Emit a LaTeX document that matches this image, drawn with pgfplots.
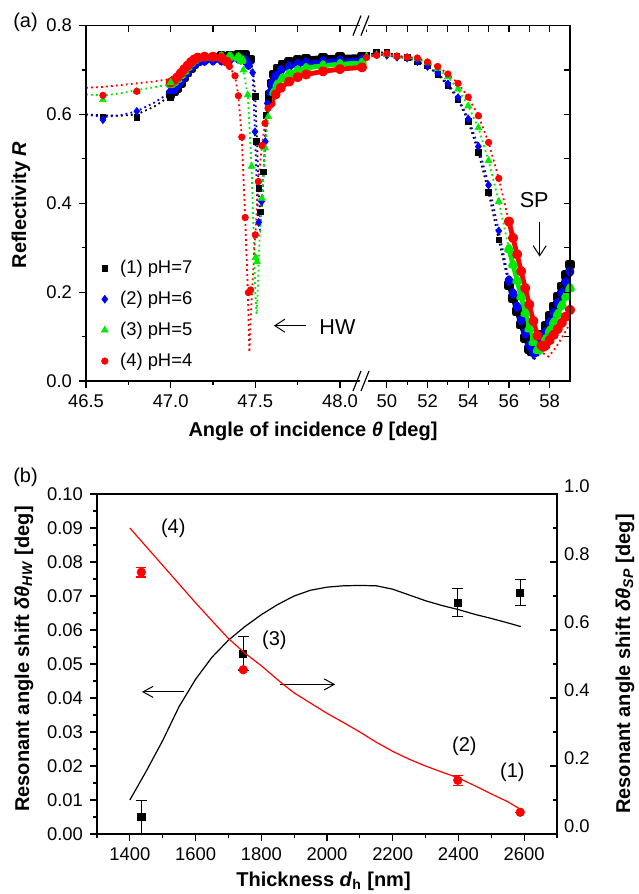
\documentclass[border=0pt]{standalone}
\usepackage{pgfplots}
\pgfplotsset{compat=1.18}
\usepackage{fontspec}
\setmainfont{Liberation Sans}
\usetikzlibrary{arrows.meta}
\definecolor{pblue}{RGB}{0,0,255}
\definecolor{pgreen}{RGB}{0,235,0}
\definecolor{pred}{RGB}{255,0,0}
\newcommand{\tfont}{\fontsize{9.2}{11}\selectfont}
\newcommand{\lfont}{\fontsize{10}{12}\selectfont}
\pgfplotsset{
  ax/.style={
    scale only axis,
    axis line style={line width=0.7pt},
    every tick/.style={line width=0.6pt, black},
    major tick length=3.5pt,
    minor tick length=2pt,
    tick align=outside,
    tick label style={font=\tfont},
    /pgf/number format/assume math mode=true,
  },
  fit/.style={line width=0.9pt, dash pattern=on 0.9pt off 1.6pt, forget plot},
  band/.style={line width=2.4pt, line join=round, line cap=round, forget plot},
  nolab/.style={xticklabel style={opacity=0}, yticklabel style={opacity=0}},
}
\begin{document}
\begin{tikzpicture}[x=1pt,y=1pt]
\useasboundingbox (0pt,0pt) rectangle (319pt,447pt);

% ================= panel (a), left segment =================
\begin{axis}[ax, at={(43pt,256.5pt)}, anchor=south west, width=138pt, height=177.7pt,
  xmin=46.5, xmax=48.13, ymin=0, ymax=0.8,
  axis line style={draw=none},
  tick pos=left,
  xtick={46.5,47.0,47.5,48.0}, xticklabels={46.5,47.0,47.5,48.0},
  minor xtick={46.75,47.25,47.75},
  ytick={0,0.2,0.4,0.6,0.8}, yticklabels={0.0,0.2,0.4,0.6,0.8},
  minor ytick={0.1,0.3,0.5,0.7},
  legend style={at={(axis cs:46.575,0.282)}, anchor=north west, draw=none, fill=none,
    font=\tfont, row sep=3.3pt, inner sep=0pt},
  legend cell align=left,
  legend image code/.code={\path[draw=none,fill=none] (0cm,0cm) -- (0.3cm,0cm); \draw[#1] plot coordinates {(0.1cm,0cm)};},
  extra description/.code={\draw[line width=0.7pt] (1,0) -- (0,0) -- (0,1) -- (1,1);},
]
% fitted (dotted) curves
\addplot[fit, black] coordinates {(46.5,0.600) (46.6,0.598) (46.7,0.597) (46.8,0.600) (46.9,0.617) (47.0,0.642) (47.08,0.684) (47.16,0.720) (47.3,0.731) (47.44,0.734) (47.47,0.725) (47.49,0.69) (47.50,0.64) (47.51,0.54) (47.52,0.43) (47.53,0.36) (47.54,0.40) (47.55,0.475) (47.56,0.56) (47.575,0.625) (47.59,0.66)};
\addplot[fit, pblue] coordinates {(46.5,0.600) (46.6,0.594) (46.7,0.598) (46.8,0.607) (46.9,0.626) (47.0,0.650) (47.08,0.685) (47.16,0.719) (47.3,0.722) (47.44,0.722) (47.484,0.694) (47.498,0.561) (47.51,0.42) (47.52,0.345) (47.528,0.34) (47.537,0.404) (47.55,0.48) (47.559,0.539) (47.57,0.625) (47.59,0.655)};
\addplot[fit, pgreen] coordinates {(46.5,0.645) (46.6,0.643) (46.7,0.647) (46.8,0.655) (46.9,0.661) (47.0,0.668) (47.08,0.698) (47.16,0.727) (47.3,0.730) (47.40,0.728) (47.43,0.697) (47.455,0.644) (47.478,0.483) (47.49,0.33) (47.50,0.20) (47.507,0.15) (47.515,0.21) (47.525,0.32) (47.539,0.411) (47.557,0.525) (47.576,0.595) (47.59,0.628)};
\addplot[fit, pred] coordinates {(46.5,0.660) (46.6,0.662) (46.7,0.666) (46.8,0.670) (46.9,0.674) (47.0,0.680) (47.08,0.702) (47.16,0.728) (47.25,0.730) (47.33,0.72) (47.347,0.708) (47.38,0.687) (47.40,0.642) (47.42,0.549) (47.44,0.368) (47.455,0.21) (47.465,0.065) (47.475,0.16) (47.49,0.27) (47.50,0.329) (47.518,0.449) (47.539,0.53) (47.557,0.58) (47.575,0.614) (47.59,0.625)};
% densely sampled regions
\addplot[band, black, mark=square*, mark size=1.2pt] coordinates {(47.00,0.645) (47.02,0.652) (47.04,0.660) (47.06,0.671) (47.08,0.684) (47.10,0.695) (47.12,0.705) (47.14,0.714) (47.16,0.720) (47.20,0.725) (47.25,0.728) (47.30,0.731) (47.35,0.733) (47.40,0.735) (47.44,0.734) (47.47,0.724)};
\addplot[band, black, mark=square*, mark size=1.2pt] coordinates {(47.585,0.645) (47.595,0.670) (47.61,0.690) (47.63,0.703) (47.66,0.712) (47.70,0.718) (47.75,0.722) (47.80,0.725) (47.90,0.728) (48.00,0.729) (48.13,0.730)};
\addplot[band, pblue, mark=diamond*, mark size=1.5pt] coordinates {(47.00,0.650) (47.02,0.657) (47.04,0.665) (47.06,0.675) (47.08,0.685) (47.10,0.696) (47.12,0.706) (47.14,0.714) (47.16,0.719) (47.20,0.721) (47.25,0.722) (47.30,0.722) (47.35,0.724) (47.40,0.726) (47.44,0.722) (47.46,0.712)};
\addplot[band, pblue, mark=diamond*, mark size=1.5pt] coordinates {(47.59,0.650) (47.60,0.670) (47.62,0.686) (47.65,0.699) (47.70,0.708) (47.75,0.713) (47.80,0.716) (47.90,0.719) (48.00,0.721) (48.13,0.723)};
\addplot[band, pgreen, mark=triangle*, mark size=1.5pt] coordinates {(47.00,0.668) (47.02,0.673) (47.04,0.680) (47.06,0.689) (47.08,0.698) (47.10,0.707) (47.12,0.716) (47.14,0.722) (47.16,0.727) (47.20,0.729) (47.25,0.729) (47.30,0.730) (47.35,0.730) (47.40,0.728) (47.42,0.722)};
\addplot[band, pgreen, mark=triangle*, mark size=1.5pt] coordinates {(47.59,0.628) (47.61,0.650) (47.63,0.667) (47.66,0.681) (47.70,0.691) (47.75,0.699) (47.80,0.704) (47.90,0.710) (48.00,0.713) (48.13,0.716)};
\addplot[band, pred, mark=*, mark size=1.3pt] coordinates {(47.00,0.672) (47.02,0.677) (47.04,0.684) (47.06,0.693) (47.08,0.702) (47.10,0.710) (47.12,0.718) (47.14,0.724) (47.16,0.728) (47.20,0.730) (47.25,0.730) (47.30,0.727) (47.33,0.719)};
\addplot[band, pred, mark=*, mark size=1.3pt] coordinates {(47.59,0.625) (47.62,0.645) (47.65,0.660) (47.70,0.674) (47.75,0.684) (47.80,0.690) (47.90,0.697) (48.00,0.702) (48.13,0.706)};
% measured points
\addplot[only marks, black, mark=square*, mark size=1.4pt] coordinates {(46.6,0.594) (46.8,0.594) (47.0,0.638) (47.5,0.640) (47.508,0.539) (47.52,0.434) (47.529,0.381) (47.549,0.471) (47.563,0.598) (47.578,0.634)};
\addlegendentry{(1) pH=7}
\addplot[only marks, pblue, mark=diamond*, mark size=1.9pt] coordinates {(46.6,0.588) (46.8,0.607) (47.484,0.694) (47.498,0.561) (47.52,0.357) (47.537,0.404) (47.559,0.539) (47.57,0.625)};
\addlegendentry{(2) pH=6}
\addplot[only marks, pgreen, mark=triangle*, mark size=1.9pt] coordinates {(46.6,0.633) (46.8,0.652) (47.0,0.672) (47.43,0.700) (47.455,0.644) (47.478,0.483) (47.502,0.278) (47.51,0.268) (47.539,0.411) (47.557,0.525) (47.576,0.595)};
\addlegendentry{(3) pH=5}
\addplot[only marks, pred, mark=*, mark size=1.6pt] coordinates {(46.6,0.643) (46.8,0.652) (47.347,0.708) (47.38,0.687) (47.40,0.642) (47.42,0.549) (47.44,0.368) (47.459,0.199) (47.472,0.205) (47.50,0.329) (47.518,0.449) (47.539,0.53) (47.557,0.58) (47.575,0.614)};
\addlegendentry{(4) pH=4}
\draw[line width=0.5pt, -{Straight Barb[length=5pt,width=6.5pt]}] (axis cs:47.80,0.1245) -- (axis cs:47.61,0.1245);
\node[font=\fontsize{10.8}{12}\selectfont] at (axis cs:47.985,0.122) {HW};
\end{axis}
% mirrored ticks (top)
\begin{axis}[ax, nolab, at={(43pt,256.5pt)}, anchor=south west, width=138pt, height=177.7pt,
  xmin=46.5, xmax=48.13, ymin=0, ymax=0.8, axis line style={draw=none},
  tick align=inside, xtick pos=right, ytick=\empty, major tick length=3pt,
  xtick={46.75,47,47.25,47.5,47.75,48}]
\end{axis}

% ================= panel (a), right segment =================
\begin{axis}[ax, at={(181pt,256.5pt)}, anchor=south west, width=104pt, height=177.7pt,
  xmin=48.78, xmax=59, ymin=0, ymax=0.8,
  axis line style={draw=none},
  tick pos=left,
  xtick={50,52,54,56,58}, xticklabels={50,52,54,56,58},
  minor xtick={49,51,53,55,57},
  ytick=\empty,
  extra description/.code={\draw[line width=0.7pt] (0,0) -- (1,0) -- (1,1) -- (0,1);},
]
\addplot[fit, black] coordinates {(49.0,0.733) (49.5,0.739) (50.0,0.740) (50.5,0.732) (51.0,0.728) (51.5,0.720) (52.0,0.709) (52.5,0.690) (53.0,0.665) (53.5,0.634) (54.0,0.584) (54.5,0.515) (55.0,0.424) (55.5,0.318) (56.0,0.216) (56.5,0.135) (57.0,0.062) (57.15,0.05) (57.3,0.056) (57.6,0.092) (58.0,0.14) (58.5,0.198) (59.0,0.255)};
\addplot[fit, pblue] coordinates {(49.0,0.730) (49.5,0.735) (50.0,0.733) (50.5,0.729) (51.0,0.727) (51.5,0.719) (52.0,0.708) (52.5,0.693) (53.0,0.669) (53.5,0.638) (54.0,0.590) (54.5,0.528) (55.0,0.441) (55.5,0.338) (56.0,0.226) (56.5,0.145) (57.0,0.07) (57.25,0.05) (57.45,0.058) (57.8,0.10) (58.4,0.168) (59.0,0.24)};
\addplot[fit, pgreen] coordinates {(49.0,0.731) (49.5,0.734) (50.0,0.735) (50.5,0.731) (51.0,0.729) (51.5,0.725) (52.0,0.716) (52.5,0.704) (53.0,0.685) (53.5,0.657) (54.0,0.619) (54.5,0.570) (55.0,0.496) (55.5,0.404) (56.0,0.297) (56.6,0.185) (57.2,0.08) (57.45,0.057) (57.7,0.068) (58.2,0.12) (59.0,0.2)};
\addplot[fit, pred] coordinates {(49.0,0.728) (49.5,0.733) (50.0,0.737) (50.5,0.731) (51.0,0.729) (51.5,0.727) (52.0,0.718) (52.5,0.708) (53.0,0.691) (53.5,0.670) (54.0,0.639) (54.5,0.597) (55.0,0.537) (55.5,0.456) (56.0,0.359) (56.8,0.205) (57.4,0.095) (57.7,0.062) (57.95,0.055) (58.3,0.075) (58.7,0.105) (59.0,0.13)};
% dense V region
\addplot[band, black, mark=square*, mark size=1.2pt] coordinates {(56.0,0.216) (56.2,0.187) (56.4,0.157) (56.6,0.127) (56.8,0.097) (57.0,0.072) (57.1,0.066) (57.2,0.067) (57.4,0.083) (57.6,0.103) (57.8,0.124) (58.0,0.146) (58.2,0.168) (58.4,0.190) (58.6,0.213) (58.8,0.238) (59.0,0.262)};
\addplot[band, pblue, mark=diamond*, mark size=1.5pt] coordinates {(56.0,0.226) (56.2,0.197) (56.4,0.167) (56.6,0.137) (56.8,0.107) (57.0,0.080) (57.2,0.064) (57.3,0.065) (57.4,0.071) (57.6,0.090) (57.8,0.110) (58.0,0.132) (58.2,0.153) (58.4,0.175) (58.6,0.198) (58.8,0.222) (59.0,0.246)};
\addplot[band, pgreen, mark=triangle*, mark size=1.5pt] coordinates {(56.0,0.297) (56.2,0.262) (56.4,0.226) (56.6,0.190) (56.8,0.153) (57.0,0.118) (57.2,0.088) (57.4,0.070) (57.5,0.071) (57.6,0.077) (57.8,0.094) (58.0,0.113) (58.2,0.132) (58.4,0.151) (58.6,0.170) (58.8,0.190) (59.0,0.209)};
\addplot[band, pred, mark=*, mark size=1.3pt] coordinates {(56.0,0.359) (56.2,0.322) (56.4,0.285) (56.6,0.247) (56.8,0.209) (57.0,0.172) (57.2,0.135) (57.4,0.102) (57.6,0.080) (57.7,0.077) (57.8,0.080) (58.0,0.092) (58.2,0.104) (58.4,0.117) (58.6,0.131) (58.8,0.145) (59.0,0.160)};
% measured points
\addplot[only marks, black, mark=square*, mark size=1.4pt] coordinates {(49.0,0.733) (49.5,0.739) (50.0,0.740) (50.5,0.732) (51.0,0.728) (51.5,0.720) (52.0,0.709) (52.5,0.690) (53.0,0.665) (53.5,0.634) (54.0,0.584) (54.5,0.515) (55.0,0.424) (55.5,0.318)};
\addplot[only marks, pblue, mark=diamond*, mark size=1.9pt] coordinates {(49.0,0.730) (49.5,0.735) (50.0,0.733) (50.5,0.729) (51.0,0.727) (51.5,0.719) (52.0,0.708) (52.5,0.693) (53.0,0.669) (53.5,0.638) (54.0,0.590) (54.5,0.528) (55.0,0.441) (55.5,0.338)};
\addplot[only marks, pgreen, mark=triangle*, mark size=1.9pt] coordinates {(49.0,0.731) (49.5,0.734) (50.0,0.735) (50.5,0.731) (51.0,0.729) (51.5,0.725) (52.0,0.716) (52.5,0.704) (53.0,0.685) (53.5,0.657) (54.0,0.619) (54.5,0.570) (55.0,0.496) (55.5,0.404)};
\addplot[only marks, pred, mark=*, mark size=1.6pt] coordinates {(49.0,0.728) (49.5,0.733) (50.0,0.737) (50.5,0.731) (51.0,0.729) (51.5,0.727) (52.0,0.718) (52.5,0.708) (53.0,0.691) (53.5,0.670) (54.0,0.639) (54.5,0.597) (55.0,0.537) (55.5,0.456)};
\node[font=\fontsize{10.8}{12}\selectfont] at (axis cs:57.24,0.408) {SP};
\draw[line width=0.5pt, -{Straight Barb[length=5pt,width=6.5pt]}] (axis cs:57.51,0.359) -- (axis cs:57.51,0.28);
\end{axis}
% mirrored ticks (top, right)
\begin{axis}[ax, nolab, at={(181pt,256.5pt)}, anchor=south west, width=104pt, height=177.7pt,
  xmin=48.78, xmax=59, ymin=0, ymax=0.8, axis line style={draw=none},
  tick align=inside, xtick pos=right, ytick pos=right, major tick length=3pt,
  xtick={49,50,51,52,53,54,55,56,57,58}, ytick={0.1,0.2,0.3,0.4,0.5,0.6,0.7}]
\end{axis}

% axis break marks
\foreach \yy in {256.5,434.2}{
  \fill[white] (178.5pt,\yy pt-4pt) -- (182.5pt,\yy pt-4pt) -- (185.5pt,\yy pt+4pt) -- (181.5pt,\yy pt+4pt) -- cycle;
  \draw[line width=0.6pt] (176.5pt,\yy pt-5pt) -- (180.5pt,\yy pt+5pt);
  \draw[line width=0.6pt] (180.5pt,\yy pt-5pt) -- (184.5pt,\yy pt+5pt);
}

% labels panel (a)
\node[font=\lfont] at (12.75pt,435.75pt) {(a)};
\node[font=\lfont, rotate=90] at (10.5pt,344.5pt) {\textbf{Reflectivity \textit{R}}};
\node[font=\lfont] at (156.5pt,231.5pt) {\textbf{Angle of incidence \textit{θ} [deg]}};

% ================= panel (b) =================
\begin{axis}[ax, at={(48.5pt,30pt)}, anchor=south west, width=230pt, height=170pt,
  xmin=1300, xmax=2700, ymin=0, ymax=0.1,
  tick pos=left,
  xtick={1400,1600,1800,2000,2200,2400,2600},
  xticklabels={1400,1600,1800,2000,2200,2400,2600},
  minor xtick={1300,1500,1700,1900,2100,2300,2500,2700},
  ytick={0,0.01,0.02,0.03,0.04,0.05,0.06,0.07,0.08,0.09,0.1},
  yticklabels={0.00,0.01,0.02,0.03,0.04,0.05,0.06,0.07,0.08,0.09,0.10},
  minor ytick={0.005,0.015,0.025,0.035,0.045,0.055,0.065,0.075,0.085,0.095},
]
\addplot[black, line width=0.6pt] coordinates {(1400,0.010) (1450,0.0185) (1500,0.0275) (1550,0.0375) (1600,0.0455) (1650,0.0520) (1700,0.0570) (1750,0.0610) (1800,0.0645) (1850,0.0675) (1900,0.0700) (1950,0.0717) (2000,0.0726) (2050,0.0730) (2100,0.0731) (2150,0.0730) (2200,0.0720) (2250,0.0703) (2300,0.0686) (2350,0.0672) (2400,0.0660) (2450,0.0646) (2500,0.0634) (2550,0.0621) (2590,0.0610)};
\addplot[only marks, black, mark=square*, mark size=1.8pt,
  error bars/.cd, y dir=both, y explicit,
  error bar style={line width=0.6pt, black},
  error mark options={rotate=90, mark size=2.8pt, line width=0.6pt, black}]
  coordinates {(1435,0.005) +- (0,0.0048) (1745,0.053) +- (0,0.005) (2398,0.068) +- (0,0.0041) (2588,0.071) +- (0,0.0038)};
\node[font=\lfont] at (axis cs:1532,0.0900) {(4)};
\node[font=\lfont] at (axis cs:1840,0.0570) {(3)};
\node[font=\lfont] at (axis cs:2418,0.0258) {(2)};
\node[font=\lfont] at (axis cs:2564,0.0180) {(1)};
\draw[line width=0.5pt, -{Straight Barb[length=5pt,width=5.5pt]}] (axis cs:1564,0.0418) -- (axis cs:1437,0.0418);
\draw[line width=0.5pt, -{Straight Barb[length=5pt,width=5.5pt]}] (axis cs:1858,0.0440) -- (axis cs:2025,0.0440);
\end{axis}
\begin{axis}[ax, at={(48.5pt,30pt)}, anchor=south west, width=230pt, height=170pt,
  xmin=1300, xmax=2700, ymin=0, ymax=1,
  axis line style={draw=none},
  xtick=\empty, ytick pos=right, yticklabel pos=right, tick align=inside,
  ytick={0,0.2,0.4,0.6,0.8,1.0}, yticklabels={0.0,0.2,0.4,0.6,0.8,1.0},
  minor ytick={0.1,0.3,0.5,0.7,0.9},
  yticklabel style={yshift=4pt},
]
\addplot[pred, line width=0.6pt] coordinates {(1400,0.900) (1450,0.845) (1500,0.790) (1550,0.735) (1600,0.680) (1650,0.627) (1700,0.575) (1750,0.532) (1800,0.495) (1858,0.447) (1900,0.415) (1950,0.385) (2000,0.355) (2050,0.328) (2100,0.300) (2150,0.270) (2200,0.243) (2250,0.220) (2300,0.200) (2350,0.182) (2400,0.165) (2450,0.142) (2500,0.118) (2550,0.095) (2590,0.072)};
\addplot[only marks, pred, mark=*, mark size=2.1pt,
  error bars/.cd, y dir=both, y explicit,
  error bar style={line width=0.6pt, pred},
  error mark options={rotate=90, mark size=2.5pt, line width=0.6pt, pred}]
  coordinates {(1435,0.770) +- (0,0.014) (1745,0.483) +- (0,0.0) (2398,0.158) +- (0,0.015) (2588,0.064) +- (0,0.0)};
\end{axis}

\node[font=\lfont] at (12.75pt,208.5pt) {(b)};
\node[font=\lfont, rotate=90] at (12pt,117.5pt) {\textbf{Resonant angle shift \textit{δθ}\textsubscript{\textit{HW}} [deg]}};
\node[font=\lfont, rotate=90] at (312.5pt,115pt) {\textbf{Resonant angle shift \textit{δθ}\textsubscript{\textit{SP}} [deg]}};
\node[font=\lfont] at (161.75pt,6.5pt) {\textbf{Thickness \textit{d}\textsubscript{h} [nm]}};
\end{tikzpicture}
\end{document}
